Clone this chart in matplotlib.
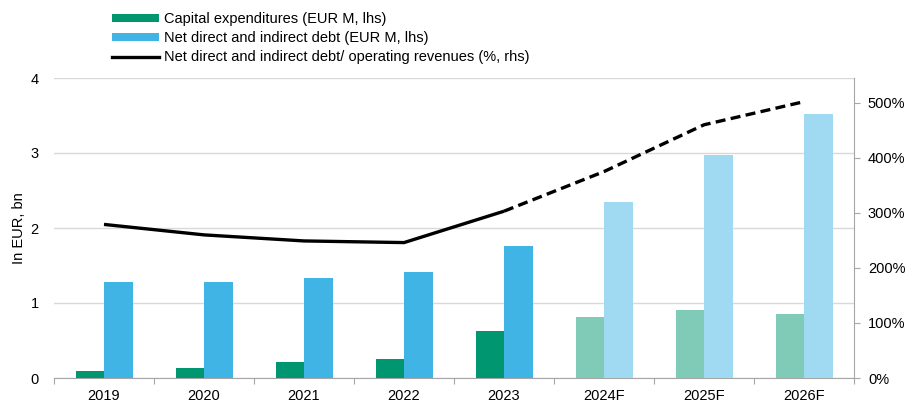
import matplotlib
matplotlib.use("Agg")
import matplotlib.pyplot as plt
import numpy as np
from matplotlib.patches import Patch
from matplotlib.lines import Line2D
from matplotlib.ticker import FuncFormatter

plt.rcParams['font.family'] = ['Liberation Sans', 'DejaVu Sans']

categories = ['2019', '2020', '2021', '2022', '2023', '2024F', '2025F', '2026F']
forecast = [False, False, False, False, False, True, True, True]
capex = [0.10, 0.135, 0.22, 0.26, 0.63, 0.81, 0.905, 0.855]
debt = [1.275, 1.28, 1.335, 1.41, 1.76, 2.345, 2.975, 3.52]
ratio = [279, 260, 249, 246, 303, 375, 460, 502]

green, green_f = '#009670', '#80CAB8'
blue, blue_f = '#41B4E6', '#A0D9F2'

fig = plt.figure(figsize=(9.05, 4.03), dpi=100)
ax = fig.add_axes([54/905, 25/403, 800/905, 300/403])
ax2 = ax.twinx()

x = np.arange(len(categories))
w = 0.285
ax.bar(x - w/2, capex, w, color=[green_f if f else green for f in forecast], zorder=3)
ax.bar(x + w/2, debt, w, color=[blue_f if f else blue for f in forecast], zorder=3)

ax.set_xlim(-0.5, len(categories) - 0.5)
ax.set_ylim(0, 4)
ax.set_yticks([0, 1, 2, 3, 4])
ax.grid(axis='y', color='#D9D9D9', linewidth=1, zorder=0)
ax.set_axisbelow(True)
ax.tick_params(axis='y', length=0, pad=11, labelsize=10.5)
ax.set_ylabel('In EUR, bn', fontsize=10.5, labelpad=3)

ax.set_xticks(np.arange(-0.5, len(categories), 1.0))
ax.set_xticklabels([])
ax.tick_params(axis='x', which='major', length=4, color='#A6A6A6', direction='out')
ax.set_xticks(x, minor=True)
ax.set_xticklabels(categories, minor=True)
ax.tick_params(axis='x', which='minor', length=0, pad=8, labelsize=10.5)

for s in ['top', 'left']:
    ax.spines[s].set_visible(False)
    ax2.spines[s].set_visible(False)
ax.spines['right'].set_visible(False)
ax.spines['bottom'].set_color('#A6A6A6')
ax2.spines['bottom'].set_visible(False)
ax2.spines['right'].set_color('#A6A6A6')

ax2.set_ylim(0, 545)
ax2.set_yticks([0, 100, 200, 300, 400, 500])
ax2.yaxis.set_major_formatter(FuncFormatter(lambda v, p: f'{int(v)}%'))
ax2.tick_params(axis='y', length=4, color='#A6A6A6', pad=6, labelsize=10.5)

ax2.plot(x[:5], ratio[:5], color='black', linewidth=2.4, solid_capstyle='butt', zorder=4)
ax2.plot(x[4:], ratio[4:], color='black', linewidth=2.4, linestyle=(0, (3, 1.6)), zorder=4)

handles = [Patch(facecolor=green), Patch(facecolor=blue),
           Line2D([], [], color='black', linewidth=2.4)]
labels = ['Capital expenditures (EUR M, lhs)',
          'Net direct and indirect debt (EUR M, lhs)',
          'Net direct and indirect debt/ operating revenues (%, rhs)']
fig.legend(handles, labels, loc='upper left', bbox_to_anchor=(112/905, 1 - 12/403),
           frameon=False, fontsize=10.5, handlelength=3.2, handleheight=0.48,
           handletextpad=0.4, labelspacing=0.35, borderaxespad=0, borderpad=0)

fig.savefig('out.png', dpi=100)
